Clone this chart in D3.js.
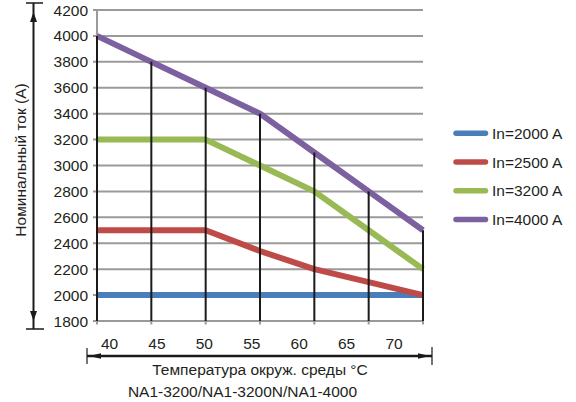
<!DOCTYPE html>
<html><head><meta charset="utf-8">
<script src="https://cdn.jsdelivr.net/npm/d3@7"></script>
<style>body{margin:0;background:#fff}svg{display:block}text{font-family:"Liberation Sans",Arial,sans-serif;fill:#231f20}</style>
</head><body><svg id="c" width="576" height="402"></svg>
<script>
const temps = [40, 45, 50, 55, 60, 65, 70];
const tickLabels = ["40", "45", "50", "55", "60", "65", "70"];
const yTicks = [1800, 2000, 2200, 2400, 2600, 2800, 3000, 3200, 3400, 3600, 3800, 4000, 4200];
const seriesNames = ["In=2000 A", "In=2500 A", "In=3200 A", "In=4000 A"];
const in2000 = [2000, 2000, 2000, 2000, 2000, 2000, 2000];
const in2500 = [2500, 2500, 2500, 2340, 2200, 2100, 2000];
const in3200 = [3200, 3200, 3200, 3000, 2800, 2500, 2200];
const in4000 = [4000, 3800, 3600, 3400, 3100, 2800, 2500];
const colors = ["#4a7ebb", "#be4b48", "#98b954", "#7d60a0"];
const seriesValues = [in2000, in2500, in3200, in4000];

const svg = d3.select("#c");
const x = d3.scaleLinear().domain([40, 70]).range([97, 423]);
const xl = d3.scalePoint().domain(tickLabels).range([109.5, 394]);
const y = d3.scaleLinear().domain([1800, 4200]).range([321, 10]);

// gridlines
svg.append("g").selectAll("line").data(yTicks).join("line")
  .attr("x1", 93).attr("x2", 423).attr("y1", d => y(d)).attr("y2", d => y(d))
  .attr("stroke", "#9a9a9a").attr("stroke-width", 2);
// left axis line
svg.append("line").attr("x1", x(40)).attr("x2", x(40)).attr("y1", y(4200)).attr("y2", y(1800))
  .attr("stroke", "#9a9a9a").attr("stroke-width", 2);
// bottom ticks
svg.append("g").selectAll("line").data(temps).join("line")
  .attr("x1", d => x(d)).attr("x2", d => x(d)).attr("y1", y(1800)).attr("y2", y(1800) + 3.5)
  .attr("stroke", "#9a9a9a").attr("stroke-width", 2);

// y tick labels
svg.append("g").selectAll("text").data(yTicks).join("text")
  .attr("x", 88).attr("y", d => y(d)).attr("dy", "0.36em").attr("text-anchor", "end")
  .attr("font-size", 15.5).text(d => d);

// series
const line = d3.line().x((d, i) => x(temps[i])).y(d => y(d));
svg.append("g").selectAll("path").data(seriesValues).join("path")
  .attr("d", d => line(d)).attr("fill", "none")
  .attr("stroke", (d, i) => colors[i]).attr("stroke-width", 6).attr("stroke-linejoin", "round");

// drop lines
svg.append("g").selectAll("line").data(temps).join("line")
  .attr("x1", d => x(d)).attr("x2", d => x(d))
  .attr("y1", (d, i) => y(d3.max(seriesValues, s => s[i]))).attr("y2", y(1800))
  .attr("stroke", "#1a1a1a").attr("stroke-width", 2);

// x tick labels
svg.append("g").selectAll("text").data(tickLabels).join("text")
  .attr("x", d => xl(d)).attr("y", 343).attr("dy", "0.36em").attr("text-anchor", "middle")
  .attr("font-size", 15.5).text(d => d);

// y arrow
const ax = 33.5;
svg.append("line").attr("x1", ax).attr("x2", ax).attr("y1", 3).attr("y2", 329).attr("stroke", "#1a1a1a").attr("stroke-width", 2);
svg.append("line").attr("x1", 26).attr("x2", 43).attr("y1", 3).attr("y2", 3).attr("stroke", "#1a1a1a").attr("stroke-width", 1.5);
svg.append("line").attr("x1", 26).attr("x2", 44).attr("y1", 329).attr("y2", 329).attr("stroke", "#1a1a1a").attr("stroke-width", 1.5);
svg.append("path").attr("d", `M${ax},12 L${ax-3.5},22 L${ax+3.5},22 Z`).attr("fill", "#1a1a1a");
svg.append("path").attr("d", `M${ax},321 L${ax-3.5},311 L${ax+3.5},311 Z`).attr("fill", "#1a1a1a");

// x arrow
const ay = 356;
svg.append("line").attr("x1", 87).attr("x2", 432).attr("y1", ay).attr("y2", ay).attr("stroke", "#1a1a1a").attr("stroke-width", 2.5);
svg.append("line").attr("x1", 87).attr("x2", 87).attr("y1", 348).attr("y2", 364).attr("stroke", "#1a1a1a").attr("stroke-width", 1.2);
svg.append("line").attr("x1", 432).attr("x2", 432).attr("y1", 347).attr("y2", 365).attr("stroke", "#1a1a1a").attr("stroke-width", 1.2);
svg.append("path").attr("d", `M89,${ay} L101,${ay-2.8} L101,${ay+2.8} Z`).attr("fill", "#1a1a1a");
svg.append("path").attr("d", `M430,${ay} L418,${ay-2.8} L418,${ay+2.8} Z`).attr("fill", "#1a1a1a");

// titles
svg.append("text").attr("x", 260).attr("y", 369).attr("dy", "0.36em").attr("text-anchor", "middle")
  .attr("font-size", 15.5).text("Температура окруж. среды °C");
svg.append("text").attr("x", 242.5).attr("y", 391.5).attr("dy", "0.36em").attr("text-anchor", "middle")
  .attr("font-size", 15.5).text("NA1-3200/NA1-3200N/NA1-4000");
svg.append("text").attr("transform", "translate(20.5,160) rotate(-90)").attr("dy", "0.36em")
  .attr("text-anchor", "middle").attr("font-size", 15.5).text("Номинальный ток (А)");

// legend
const lg = svg.append("g").selectAll("g").data(seriesNames).join("g")
  .attr("transform", (d, i) => `translate(0,${133.3 + i * 28.7})`);
lg.append("line").attr("x1", 456).attr("x2", 485.5).attr("y1", 0).attr("y2", 0)
  .attr("stroke", (d, i) => colors[i]).attr("stroke-width", 5.5).attr("stroke-linecap", "round");
lg.append("text").attr("x", 492).attr("y", 0).attr("dy", "0.36em").attr("font-size", 15.5).text(d => d);
</script></body></html>
